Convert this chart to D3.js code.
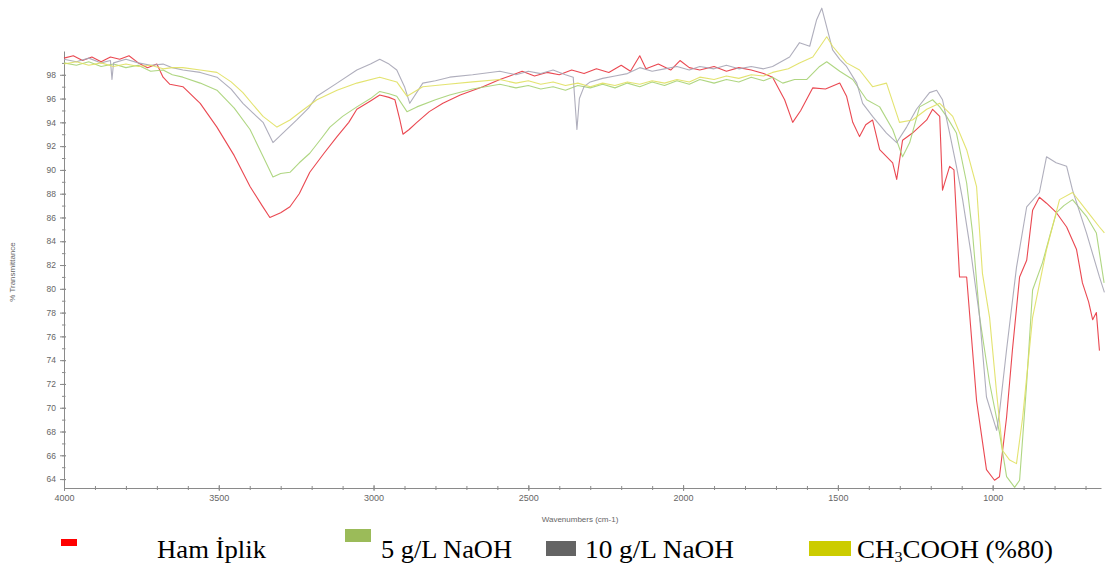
<!DOCTYPE html>
<html>
<head>
<meta charset="utf-8">
<script src="https://cdn.jsdelivr.net/npm/d3@7"></script>
<style>
  body { margin: 0; background: #ffffff; }
  #ftir { display: block; }
</style>
</head>
<body>
<svg id="ftir"></svg>
<script>
// [wavenumber (cm-1), % transmittance]
const hamIplik = [
    [4000, 99.4], [3970, 99.6], [3940, 99.2], [3910, 99.5], [3880, 99.1], [3850, 99.5],
    [3820, 99.3], [3790, 99.6], [3760, 99.0], [3730, 98.6], [3700, 98.9], [3680, 97.8],
    [3658, 97.2], [3616, 97.0], [3560, 95.6], [3506, 93.6], [3450, 91.2], [3399, 88.6],
    [3360, 87.0], [3335, 86.0], [3300, 86.4], [3270, 86.9], [3240, 88.0], [3206, 89.8],
    [3160, 91.4], [3118, 92.8], [3080, 94.0], [3054, 95.1], [3010, 95.8], [2980, 96.3],
    [2950, 96.1], [2931, 95.9], [2915, 94.2], [2905, 93.0], [2885, 93.4], [2860, 94.0],
    [2820, 94.9], [2776, 95.6], [2720, 96.3], [2647, 97.0], [2592, 97.6], [2560, 97.9],
    [2520, 98.3], [2480, 97.9], [2440, 98.2], [2400, 98.0], [2360, 98.4], [2320, 98.1],
    [2280, 98.5], [2240, 98.2], [2200, 98.8], [2170, 98.3], [2140, 99.6], [2120, 98.5],
    [2080, 98.9], [2040, 98.4], [2010, 99.2], [1980, 98.6], [1946, 98.4], [1900, 98.7],
    [1860, 98.3], [1820, 98.6], [1780, 98.4], [1740, 98.1], [1711, 97.8], [1672, 95.9],
    [1646, 94.0], [1620, 95.0], [1581, 96.9], [1540, 96.8], [1494, 97.3], [1472, 96.2],
    [1452, 94.0], [1430, 92.8], [1410, 93.8], [1388, 94.2], [1365, 91.7], [1323, 90.6],
    [1310, 89.2], [1291, 92.5], [1259, 93.1], [1213, 94.2], [1194, 95.1], [1171, 94.5],
    [1162, 88.3], [1139, 90.3], [1125, 90.0], [1107, 81.0], [1084, 81.0], [1052, 70.6],
    [1020, 64.8], [994, 63.9], [978, 64.2], [955, 69.2], [936, 74.9], [913, 81.0],
    [890, 82.4], [871, 86.6], [849, 87.7], [826, 87.2], [794, 86.4], [761, 85.2],
    [729, 83.3], [710, 80.5], [690, 78.9], [677, 77.4], [665, 78.0], [655, 74.8]
];
const naoh5 = [
    [4000, 99.0], [3960, 98.8], [3920, 99.1], [3880, 98.7], [3840, 98.9], [3800, 98.6],
    [3760, 98.8], [3720, 98.3], [3680, 98.4], [3650, 98.0], [3616, 97.8], [3560, 97.3],
    [3506, 96.7], [3450, 95.2], [3399, 93.4], [3360, 91.3], [3325, 89.4], [3300, 89.7],
    [3270, 89.8], [3240, 90.6], [3206, 91.4], [3170, 92.6], [3141, 93.6], [3100, 94.5],
    [3054, 95.3], [3010, 96.0], [2980, 96.6], [2950, 96.4], [2925, 96.2], [2892, 94.9],
    [2860, 95.3], [2800, 95.9], [2754, 96.3], [2680, 96.8], [2592, 97.2], [2540, 96.9],
    [2500, 97.1], [2460, 96.8], [2420, 97.0], [2380, 96.7], [2340, 97.1], [2300, 96.9],
    [2260, 97.2], [2220, 96.9], [2180, 97.3], [2140, 97.0], [2100, 97.4], [2060, 97.1],
    [2020, 97.5], [1980, 97.2], [1946, 97.6], [1900, 97.3], [1860, 97.6], [1820, 97.4],
    [1780, 97.8], [1740, 97.5], [1711, 97.8], [1678, 97.3], [1640, 97.6], [1601, 97.6],
    [1559, 98.7], [1536, 99.1], [1494, 98.3], [1452, 97.6], [1407, 95.9], [1365, 95.3],
    [1323, 93.4], [1291, 91.1], [1268, 92.3], [1236, 95.3], [1194, 95.9], [1171, 95.3],
    [1149, 94.5], [1117, 93.1], [1084, 88.9], [1065, 84.7], [1042, 77.6], [1010, 72.1],
    [978, 67.9], [955, 64.2], [929, 63.3], [913, 63.9], [890, 72.1], [871, 79.9],
    [839, 82.2], [815, 84.5], [794, 86.4], [770, 87.0], [742, 87.5], [697, 86.1],
    [665, 84.7], [640, 80.5]
];
const naoh10 = [
    [4000, 99.3], [3960, 99.1], [3920, 99.4], [3880, 99.0], [3850, 99.2], [3845, 97.6],
    [3840, 99.0], [3800, 99.3], [3760, 99.0], [3720, 98.8], [3680, 98.9], [3650, 98.6],
    [3616, 98.4], [3560, 98.2], [3506, 97.8], [3460, 96.8], [3422, 95.6], [3390, 94.8],
    [3357, 94.0], [3325, 92.3], [3293, 93.1], [3248, 94.2], [3210, 95.2], [3183, 96.2],
    [3118, 97.3], [3054, 98.4], [3010, 98.9], [2980, 99.3], [2950, 98.9], [2925, 98.4],
    [2900, 97.0], [2883, 95.6], [2841, 97.3], [2800, 97.5], [2754, 97.8], [2680, 98.0],
    [2592, 98.3], [2540, 98.0], [2500, 98.3], [2460, 98.1], [2420, 98.4], [2380, 98.0],
    [2355, 97.8], [2343, 93.4], [2335, 96.0], [2320, 97.0], [2300, 97.4], [2260, 97.7],
    [2220, 97.9], [2180, 98.1], [2140, 98.6], [2100, 98.3], [2060, 98.5], [2020, 98.7],
    [1980, 98.4], [1946, 98.7], [1900, 98.5], [1860, 98.8], [1820, 98.5], [1780, 98.7],
    [1740, 98.5], [1711, 98.7], [1656, 99.5], [1624, 100.7], [1591, 100.4], [1569, 102.6],
    [1552, 103.6], [1536, 102.0], [1517, 100.1], [1494, 99.3], [1472, 98.7], [1439, 97.3],
    [1420, 95.6], [1388, 94.5], [1343, 93.1], [1310, 92.3], [1278, 93.6], [1246, 95.1],
    [1204, 96.5], [1181, 96.7], [1162, 95.9], [1139, 93.1], [1117, 90.3], [1097, 87.5],
    [1070, 83.0], [1042, 77.6], [1020, 70.9], [987, 68.1], [978, 69.6], [955, 74.9],
    [923, 81.8], [890, 86.9], [849, 88.1], [826, 91.1], [795, 90.6], [761, 90.3],
    [742, 88.3], [697, 84.7], [655, 81.0], [639, 79.7]
];
const ch3cooh = [
    [4000, 98.9], [3960, 99.1], [3920, 98.8], [3880, 99.0], [3840, 98.7], [3800, 98.9],
    [3760, 98.7], [3720, 98.8], [3680, 98.5], [3650, 98.6], [3616, 98.6], [3560, 98.4],
    [3506, 98.2], [3460, 97.4], [3422, 96.5], [3390, 95.5], [3357, 94.5], [3312, 93.6],
    [3270, 94.2], [3230, 95.0], [3183, 95.9], [3118, 96.7], [3054, 97.3], [2980, 97.8],
    [2925, 97.4], [2892, 96.2], [2841, 97.0], [2760, 97.2], [2680, 97.4], [2592, 97.6],
    [2540, 97.3], [2500, 97.5], [2460, 97.2], [2420, 97.4], [2380, 97.1], [2340, 97.3],
    [2300, 97.0], [2260, 97.3], [2220, 97.1], [2180, 97.4], [2140, 97.2], [2100, 97.5],
    [2060, 97.3], [2020, 97.6], [1980, 97.4], [1946, 97.8], [1900, 97.6], [1860, 97.9],
    [1820, 97.7], [1780, 98.0], [1740, 97.9], [1711, 98.2], [1660, 98.5], [1624, 99.0],
    [1581, 99.5], [1536, 101.2], [1517, 100.4], [1472, 99.0], [1430, 98.4], [1388, 97.0],
    [1343, 97.3], [1301, 94.0], [1259, 94.2], [1213, 95.1], [1171, 95.6], [1129, 94.5],
    [1084, 91.7], [1052, 88.6], [1033, 81.3], [1010, 77.6], [987, 71.2], [968, 66.4],
    [945, 65.6], [923, 65.3], [903, 69.2], [871, 77.6], [826, 83.3], [784, 87.5],
    [742, 88.1], [697, 86.6], [655, 85.2], [639, 84.7]
];

const seriesData = [hamIplik, naoh5, naoh10, ch3cooh];
const lineColors = ['#e8343e', '#a6d274', '#a6a5b5', '#e0e060'];
const legendNames = ['Ham İplik', '5 g/L NaOH', '10 g/L NaOH', 'CH3COOH (%80)'];
const legendColors = ['#ff0000', '#9bbb59', '#646464', '#cccc00'];

const xMajor = [4000, 3500, 3000, 2500, 2000, 1500, 1000];
const xMinor = d3.range(3900, 640, -100);
const yMajor = d3.range(64, 99, 2);
const yMinor = d3.range(64, 100, 1);

const ancho = 1105;
const alto = 568;

const svg = d3.select('#ftir').attr('width', ancho).attr('height', alto);

let escalaX = d3.scaleLinear().domain([4000, 650]).range([64, 1101]);
let escalaY = d3.scaleLinear().domain([63.25, 100]).range([488, 51]);

// minor ticks
svg.append('g')
    .attr('transform', 'translate(0,488)')
    .call(d3.axisBottom(escalaX).tickValues(xMinor).tickFormat('').tickSize(2).tickSizeOuter(0))
    .call(g => g.select('.domain').remove())
    .call(g => g.selectAll('line').attr('stroke', '#8a8a8a').attr('y1', -2));

svg.append('g')
    .attr('transform', 'translate(64,0)')
    .call(d3.axisLeft(escalaY).tickValues(yMinor).tickFormat('').tickSize(2).tickSizeOuter(0))
    .call(g => g.select('.domain').remove())
    .call(g => g.selectAll('line').attr('stroke', '#8a8a8a').attr('x1', 1.5));

// main axes
svg.append('g')
    .attr('id', 'ejeX')
    .attr('transform', 'translate(0,488)')
    .call(d3.axisBottom(escalaX).tickValues(xMajor).tickFormat(d3.format('d')).tickSize(3).tickSizeOuter(0))
    .call(g => g.select('.domain').attr('stroke', '#8a8a8a'))
    .call(g => g.selectAll('line').attr('stroke', '#8a8a8a').attr('y1', -3))
    .call(g => g.selectAll('text')
        .attr('fill', '#666')
        .attr('y', 7)
        .style('font-family', 'Liberation Sans, Arial, sans-serif')
        .style('font-size', '9px'));

svg.append('g')
    .attr('id', 'ejeY')
    .attr('transform', 'translate(64,0)')
    .call(d3.axisLeft(escalaY).tickValues(yMajor).tickSize(4).tickSizeOuter(0))
    .call(g => g.select('.domain').attr('stroke', '#8a8a8a'))
    .call(g => g.selectAll('line').attr('stroke', '#8a8a8a').attr('x1', 2))
    .call(g => g.selectAll('text')
        .attr('fill', '#666')
        .attr('x', -8)
        .style('font-family', 'Liberation Sans, Arial, sans-serif')
        .style('font-size', '8.5px'));

svg.append('text')
    .attr('x', 580)
    .attr('y', 522)
    .attr('text-anchor', 'middle')
    .attr('fill', '#666')
    .style('font-family', 'Liberation Sans, Arial, sans-serif')
    .style('font-size', '8px')
    .text('Wavenumbers (cm-1)');

svg.append('text')
    .attr('transform', 'translate(15,272) rotate(-90)')
    .attr('text-anchor', 'middle')
    .attr('fill', '#666')
    .style('font-family', 'Liberation Sans, Arial, sans-serif')
    .style('font-size', '8px')
    .text('% Transmittance');

// spectra
const linea = d3.line()
    .x(d => escalaX(d[0]))
    .y(d => escalaY(d[1]))
    .curve(d3.curveLinear);

svg.selectAll('path.spec')
    .data(seriesData)
    .enter()
    .append('path')
    .attr('class', 'spec')
    .attr('d', d => linea(d))
    .attr('fill', 'none')
    .attr('stroke', (d, i) => lineColors[i])
    .attr('stroke-width', 1.1)
    .attr('stroke-opacity', 0.9)
    .attr('stroke-linejoin', 'round');

// legend
const swatches = [
    { x: 61, y: 539, w: 16, h: 7 },
    { x: 345, y: 529, w: 26, h: 13 },
    { x: 546, y: 541, w: 30, h: 15 },
    { x: 809, y: 541, w: 42, h: 15 }
];
const labelPos = [
    { x: 157, w: 109 },
    { x: 381, w: 131 },
    { x: 585, w: 149 },
    { x: 857, w: 196 }
];

svg.selectAll('rect.sw')
    .data(swatches)
    .enter()
    .append('rect')
    .attr('class', 'sw')
    .attr('x', d => d.x)
    .attr('y', d => d.y)
    .attr('width', d => d.w)
    .attr('height', d => d.h)
    .attr('fill', (d, i) => legendColors[i]);

legendNames.forEach(function (name, i) {
    const t = svg.append('text')
        .attr('x', labelPos[i].x)
        .attr('y', 558)
        .attr('fill', '#000')
        .attr('textLength', labelPos[i].w)
        .attr('lengthAdjust', 'spacingAndGlyphs')
        .style('font-family', 'Liberation Serif, Times New Roman, serif')
        .style('font-size', '25px');
    if (name.indexOf('CH3') === 0) {
        t.append('tspan').text('CH');
        t.append('tspan').attr('dy', 4).style('font-size', '15px').text('3');
        t.append('tspan').attr('dy', -4).text(name.substring(3));
    } else {
        t.text(name);
    }
});
</script>
</body>
</html>
